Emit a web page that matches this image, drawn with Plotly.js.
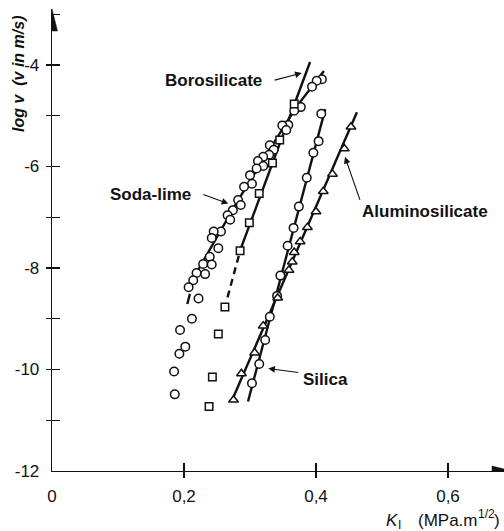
<!DOCTYPE html>
<html><head><meta charset="utf-8">
<script src="https://cdn.plot.ly/plotly-3.0.1.min.js"></script>
<style>html,body{margin:0;padding:0;background:#fff}#chart{width:504px;height:531px}</style>
</head><body><div id="chart"></div>
<script>
// ---- data ----
const sodaLimeK = [0.409,0.401,0.394,0.377,0.367,0.358,0.349,0.355,0.330,0.336,0.329,0.320,0.312,0.320,0.310,0.300,0.303,0.291,0.282,0.286,0.274,0.266,0.270,0.256,0.245,0.242,0.252,0.239,0.229,0.242,0.219,0.232,0.214,0.207,0.222,0.212,0.194,0.202,0.193,0.185,0.186];
const sodaLimeLogV = [-4.28,-4.31,-4.43,-4.83,-4.90,-5.18,-5.19,-5.28,-5.58,-5.67,-5.77,-5.81,-5.89,-5.99,-6.04,-6.17,-6.34,-6.40,-6.66,-6.76,-6.86,-6.96,-7.05,-7.28,-7.28,-7.41,-7.61,-7.78,-7.92,-7.93,-8.10,-8.12,-8.24,-8.38,-8.60,-9.00,-9.22,-9.55,-9.69,-10.04,-10.49];
const sodaLimeLineK = [0.412,0.370,0.282,0.206];
const sodaLimeLineLogV = [-4.12,-4.83,-6.66,-8.39];
const sodaLimeDashK = [0.209,0.205];
const sodaLimeDashLogV = [-8.51,-8.71];

const boroK = [0.367,0.345,0.334,0.314,0.299,0.285,0.262,0.252,0.243,0.238];
const boroLogV = [-4.77,-5.48,-5.93,-6.53,-7.11,-7.66,-8.77,-9.30,-10.15,-10.73];
const boroLineK = [0.391,0.284];
const boroLineLogV = [-3.94,-7.69];
const boroDashK = [0.283,0.264];
const boroDashLogV = [-7.76,-8.67];

const silicaK = [0.408,0.404,0.396,0.386,0.374,0.366,0.357,0.346,0.341,0.330,0.323,0.314,0.303];
const silicaLogV = [-4.96,-5.50,-5.73,-6.22,-6.79,-7.21,-7.56,-8.15,-8.55,-8.96,-9.42,-9.89,-10.27];
const silicaLineK = [0.414,0.297];
const silicaLineLogV = [-4.87,-10.63];

const aluminoK = [0.453,0.443,0.425,0.411,0.400,0.387,0.376,0.367,0.364,0.359,0.342,0.320,0.307,0.287,0.275];
const aluminoLogV = [-5.22,-5.65,-6.15,-6.49,-6.89,-7.20,-7.48,-7.69,-7.88,-8.04,-8.59,-9.14,-9.67,-10.08,-10.60];
const aluminoLineK = [0.462,0.272];
const aluminoLineLogV = [-4.93,-10.63];

const xTickVals = [0,0.2,0.4,0.6];
const xTickText = ['0','0,2','0,4','0,6'];
const xOuterTickVals = [0.2,0.4,0.6];
const yTickVals = [-12,-10,-8,-6,-4];
const yTickText = ['-12','-10','-8','-6','-4'];
const yOuterTickVals = [-11,-10,-9,-8,-7,-6,-5,-4];

// ---- styling ----
const INK = '#111';
const FONT = 'Liberation Sans, Arial, sans-serif';
const xRange = [0, 452/660];
const yRange = [-12, -12 + 462/50.75];
const PLOT = {l:52, t:9, w:452, h:462};
const px = v => (v - PLOT.l) / PLOT.w;            // page px -> paper x
const py = v => (PLOT.t + PLOT.h - v) / PLOT.h;    // page px -> paper y

function fitLine(x, y, dash) {
  return {type:'scatter', mode:'lines', x:x, y:y, showlegend:false, hoverinfo:'skip',
          line:{color:INK, width:2.4, dash:dash||'solid'}};
}
function pts(x, y, symbol, size) {
  return {type:'scatter', mode:'markers', x:x, y:y, showlegend:false,
          marker:{symbol:symbol, size:size, color:'#fff', line:{color:INK, width:1.5}}};
}

const traces = [
  fitLine(sodaLimeLineK, sodaLimeLineLogV),
  fitLine(sodaLimeDashK, sodaLimeDashLogV),
  fitLine(boroLineK, boroLineLogV),
  fitLine(boroDashK, boroDashLogV, '7px,5px'),
  fitLine(silicaLineK, silicaLineLogV),
  fitLine(aluminoLineK, aluminoLineLogV),
  pts(sodaLimeK, sodaLimeLogV, 'circle', 8.5),
  pts(boroK, boroLogV, 'square', 7.5),
  pts(silicaK, silicaLogV, 'circle', 8.5),
  pts(aluminoK, aluminoLogV, 'triangle-up', 8.5),
  {type:'scatter', mode:'markers', x:[null], y:[null], xaxis:'x2', yaxis:'y2', showlegend:false, hoverinfo:'skip'}
];

// label with its pointer arrow: (x,y) = arrow tip, (ax,ay) = tail offset in px, text box anchored at tail
function pointerLabel(text, x, y, ax, ay, opts) {
  return Object.assign({text:text, x:x, y:y, xref:'x', yref:'y', ax:ax, ay:ay, showarrow:true,
          arrowhead:2, arrowsize:1.2, arrowwidth:1.1, arrowcolor:INK, standoff:0,
          font:{family:FONT, size:17, color:INK, weight:'bold'}}, opts);
}
function pageText(text, xPx, yPx, size, extra) {
  return Object.assign({text:text, xref:'paper', yref:'paper', x:px(xPx), y:py(yPx), showarrow:false,
          xanchor:'left', yanchor:'middle', font:{family:FONT, size:size, color:INK}}, extra||{});
}

const layout = {
  width:504, height:531,
  margin:{l:52, r:0, t:9, b:60, pad:0},
  paper_bgcolor:'#fff', plot_bgcolor:'#fff',
  showlegend:false,
  font:{family:FONT, color:INK},
  xaxis:{range:xRange, showgrid:false, zeroline:false, showline:true, linecolor:INK, linewidth:1.3,
         tickmode:'array', tickvals:xTickVals, ticktext:xTickText, ticks:'inside', ticklen:8,
         tickwidth:1.3, tickcolor:INK, tickfont:{family:FONT, size:17, color:INK}, ticklabelstandoff:9},
  yaxis:{range:yRange, showgrid:false, zeroline:false, showline:true, linecolor:INK, linewidth:1.3,
         tickmode:'array', tickvals:yTickVals, ticktext:yTickText, ticks:'inside', ticklen:8,
         tickwidth:1.3, tickcolor:INK, tickfont:{family:FONT, size:17, color:INK}, ticklabelstandoff:8,
         minor:{ticks:'inside', ticklen:8, tickwidth:1.3, tickcolor:INK, tick0:0, dtick:1, showgrid:false}},
  xaxis2:{range:xRange, overlaying:'x', anchor:'y2', showgrid:false, zeroline:false, showline:false,
          tickmode:'array', tickvals:xOuterTickVals, ticks:'outside', ticklen:6, tickwidth:1.3,
          tickcolor:INK, showticklabels:false},
  yaxis2:{range:yRange, overlaying:'y', anchor:'x2', showgrid:false, zeroline:false, showline:false,
          tickmode:'array', tickvals:yOuterTickVals, ticks:'outside', ticklen:5, tickwidth:1.3,
          tickcolor:INK, showticklabels:false},
  annotations:[
    pointerLabel('Borosilicate', 0.3783, -4.16, -27, 7, {xanchor:'right', yanchor:'middle', width:108, align:'left'}),
    pointerLabel('Soda-lime', 0.2671, -6.73, -25, -9, {xanchor:'right', yanchor:'middle', width:91, align:'left'}),
    pointerLabel('Aluminosilicate', 0.4439, -5.81, 15, 43, {xanchor:'left', yanchor:'top'}),
    pointerLabel('Silica', 0.3277, -9.98, 30, 4, {xanchor:'left', yanchor:'middle', width:48, align:'right', height:33, valign:'bottom'}),
    // y-axis title (rotated)
    {text:'<b><i>log v\u00a0\u00a0(v in m/s)</i></b>', xref:'paper', yref:'paper', x:px(19), y:py(74),
     textangle:-90, showarrow:false, xanchor:'center', yanchor:'middle',
     font:{family:FONT, size:16, color:INK}},
    // x-axis title pieces: K, subscript I, (MPa.m, superscript 1/2, )
    pageText('<i>K</i>', 384, 520, 17),
    pageText('I', 395.5, 525, 12),
    pageText('(MPa.m', 416, 520, 17),
    pageText('1/2', 476, 514, 12),
    pageText(')', 492, 520, 17)
  ],
  shapes:[
    {type:'path', xref:'x', yref:'paper', xsizemode:'pixel', ysizemode:'pixel', xanchor:0, yanchor:1,
     path:'M 0 0 L -5.5 -22 L 5.5 -22 Z', fillcolor:INK, line:{color:INK, width:0.5}},
    {type:'path', xref:'paper', yref:'y', xsizemode:'pixel', ysizemode:'pixel', xanchor:1, yanchor:-12,
     path:'M 8 0 L -12 5 L -12 -5 Z', fillcolor:INK, line:{color:INK, width:0.5}}
  ]
};

Plotly.newPlot('chart', traces, layout, {staticPlot:true, displayModeBar:false});
</script></body></html>
